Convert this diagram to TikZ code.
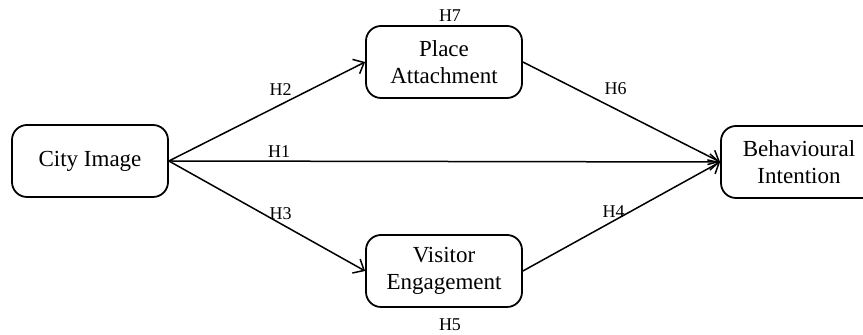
\documentclass[tikz,border=0pt]{standalone}
\usepackage{fontspec}
\setmainfont{Liberation Serif}
\usetikzlibrary{positioning}
\usetikzlibrary{arrows.meta}

\begin{document}
\begin{tikzpicture}[x=0.5pt,y=-0.5pt,
    construct/.style = {draw, rounded corners=7.5pt, line width=0.9pt,
        minimum width=78pt, minimum height=36pt, inner sep=0pt,
        align=center, font=\fontsize{11.5}{13.5}\selectfont},
    link/.style = {draw, line width=0.75pt, -{Straight Barb[length=4.5pt,width=8pt]}},
    hyp/.style = {inner sep=1pt, font=\fontsize{9}{10}\selectfont}]
    \clip (0,0) rectangle (863,335);
    \node [construct] (city) at (90,161) {City Image};
    \node [construct] (place) at (444,62) {Place\\Attachment};
    \node [construct] (visitor) at (444,271) {Visitor\\Engagement};
    \node [construct] (intent) at (799,162) {Behavioural\\Intention};
    \node [hyp, above=0.7pt of place, xshift=3pt] (h7) {H7};
    \node [hyp, below=4.2pt of visitor, xshift=3pt] (h5) {H5};
    \draw [link] (city.east) -- node[hyp, pos=0.2, above=0.3pt]{H1} (intent.west);
    \draw [link] (city.east) -- node[hyp, pos=0.57, above=3pt]{H2} (place.west);
    \draw [link] (city.east) -- node[hyp, pos=0.57, above=0.8pt]{H3} (visitor.west);
    \draw [link] (visitor.east) -- node[hyp, pos=0.46, above=0.3pt]{H4} (intent.west);
    \draw [link] (place.east) -- node[hyp, pos=0.47, above=6pt]{H6} (intent.west);
\end{tikzpicture}
\end{document}
